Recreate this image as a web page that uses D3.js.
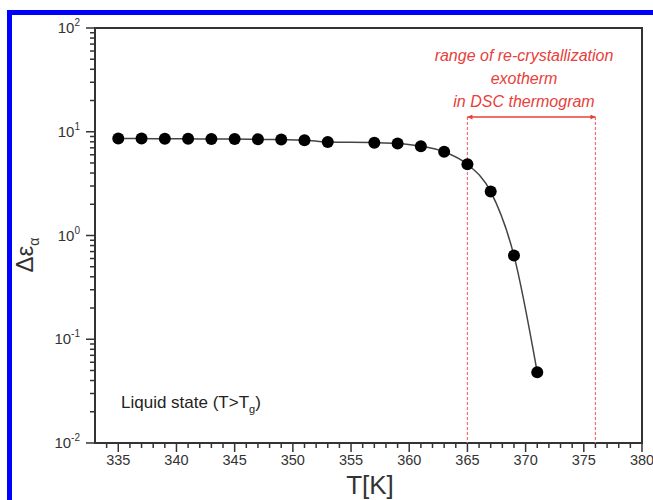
<!DOCTYPE html>
<html lang="en">
<head>
<meta charset="UTF-8">
<title>Delta epsilon alpha vs T</title>
<script src="https://d3js.org/d3.v7.min.js"></script>
<style>
  body { margin: 0; background: #fff; }
  svg text { font-family: "Liberation Sans", Arial, sans-serif; }
</style>
</head>
<body>
<div id="chart"></div>
<script>
// data
var temps = [335, 337, 339, 341, 343, 345, 347, 349, 351, 353, 357, 359, 361, 363, 365, 367, 369, 371];
var deltaEps = [8.6, 8.6, 8.55, 8.55, 8.5, 8.5, 8.45, 8.4, 8.3, 7.95, 7.85, 7.7, 7.25, 6.4, 4.85, 2.65, 0.64, 0.048];
var xTicks = [335, 340, 345, 350, 355, 360, 365, 370, 375, 380];
var yExponents = [-2, -1, 0, 1, 2];
var rangeStart = 365, rangeEnd = 376;
var noteLines = ["range of re-crystallization", "exotherm", "in DSC thermogram"];

var width = 653, height = 500;
var plotLeft = 95, plotRight = 642, plotTop = 28, plotBottom = 443;

var svg = d3.select("#chart").append("svg")
    .attr("width", width)
    .attr("height", height);

svg.append("rect").attr("width", width).attr("height", height).attr("fill", "#fff");

// blue frame
svg.append("rect")
    .attr("x", 9.5).attr("y", 12.5)
    .attr("width", 800).attr("height", 700)
    .attr("fill", "none")
    .attr("stroke", "#0000ff")
    .attr("stroke-width", 5);

var x = d3.scaleLinear().domain([333, 380]).range([plotLeft, plotRight]);
var y = d3.scaleLog().domain([0.01, 100]).range([plotBottom, plotTop]);

var axisColor = "#333";

// x ticks, minor every 1 K
svg.append("g")
  .selectAll("line")
  .data(d3.range(334, 381))
  .enter().append("line")
    .attr("x1", function(d){ return x(d); })
    .attr("x2", function(d){ return x(d); })
    .attr("y1", plotBottom)
    .attr("y2", function(d){ return xTicks.indexOf(d) >= 0 ? plotBottom + 9 : plotBottom + 5; })
    .attr("stroke", axisColor)
    .attr("stroke-width", 1.5);

svg.append("g")
  .selectAll("text")
  .data(xTicks)
  .enter().append("text")
    .attr("x", function(d){ return x(d); })
    .attr("y", 465)
    .attr("text-anchor", "middle")
    .attr("font-size", 14.5)
    .attr("fill", "#333")
    .text(function(d){ return d; });

// y ticks: decades + minor
var yMinor = [];
yExponents.forEach(function(e) {
  if (e < 2) for (var k = 2; k <= 9; k++) yMinor.push(k * Math.pow(10, e));
});

svg.append("g")
  .selectAll("line")
  .data(yMinor)
  .enter().append("line")
    .attr("x1", plotLeft - 5).attr("x2", plotLeft)
    .attr("y1", function(d){ return y(d); })
    .attr("y2", function(d){ return y(d); })
    .attr("stroke", axisColor)
    .attr("stroke-width", 1.5);

svg.append("g")
  .selectAll("line")
  .data(yExponents)
  .enter().append("line")
    .attr("x1", plotLeft - 9).attr("x2", plotLeft)
    .attr("y1", function(d){ return y(Math.pow(10, d)); })
    .attr("y2", function(d){ return y(Math.pow(10, d)); })
    .attr("stroke", axisColor)
    .attr("stroke-width", 1.5);

var yLab = svg.append("g")
  .selectAll("text")
  .data(yExponents)
  .enter().append("text")
    .attr("x", 80)
    .attr("y", function(d){ return y(Math.pow(10, d)) + 5; })
    .attr("text-anchor", "end")
    .attr("font-size", 15)
    .attr("fill", "#333");
yLab.append("tspan").text("10");
yLab.append("tspan")
    .attr("font-size", 10)
    .attr("dy", -7)
    .text(function(d){ return d; });

// frame
svg.append("rect")
    .attr("x", plotLeft).attr("y", plotTop)
    .attr("width", plotRight - plotLeft).attr("height", plotBottom - plotTop)
    .attr("fill", "none")
    .attr("stroke", axisColor)
    .attr("stroke-width", 2);

// red range markers
var red = "#e8403a";
[rangeStart, rangeEnd].forEach(function(t) {
  svg.append("line")
      .attr("x1", x(t)).attr("x2", x(t))
      .attr("y1", 117).attr("y2", plotBottom)
      .attr("stroke", "#f07070")
      .attr("stroke-width", 1.2)
      .attr("stroke-dasharray", "3,2");
});

svg.append("defs").selectAll("marker")
  .data(["a-start", "a-end"])
  .enter().append("marker")
    .attr("id", function(d){ return d; })
    .attr("viewBox", "0 0 10 10")
    .attr("refX", 10)
    .attr("refY", 5)
    .attr("markerWidth", 11).attr("markerHeight", 5)
    .attr("markerUnits", "userSpaceOnUse")
    .attr("orient", function(d){ return d === "a-start" ? "auto-start-reverse" : "auto"; })
  .append("path")
    .attr("d", "M0,0L10,5L0,10Z")
    .attr("fill", red);

svg.append("line")
    .attr("x1", x(rangeStart)).attr("x2", x(rangeEnd))
    .attr("y1", 117).attr("y2", 117)
    .attr("stroke", red)
    .attr("stroke-width", 1.5)
    .attr("marker-start", "url(#a-start)")
    .attr("marker-end", "url(#a-end)");

svg.append("g")
  .selectAll("text")
  .data(noteLines)
  .enter().append("text")
    .attr("x", 524)
    .attr("y", function(d, i){ return 61 + i * 23; })
    .attr("text-anchor", "middle")
    .attr("font-size", 16)
    .attr("font-style", "italic")
    .attr("fill", red)
    .text(function(d){ return d; });

// data line + points
var pts = temps.map(function(t, i){ return [t, deltaEps[i]]; });

svg.append("path")
    .datum(pts)
    .attr("d", d3.line()
      .x(function(d){ return x(d[0]); })
      .y(function(d){ return y(d[1]); })
      .curve(d3.curveMonotoneX))
    .attr("fill", "none")
    .attr("stroke", "#444")
    .attr("stroke-width", 1.5);

svg.append("g")
  .selectAll("circle")
  .data(pts)
  .enter().append("circle")
    .attr("cx", function(d){ return x(d[0]); })
    .attr("cy", function(d){ return y(d[1]); })
    .attr("r", 6)
    .attr("fill", "#000");

// inside label
var liq = svg.append("text")
    .attr("x", 121).attr("y", 408)
    .attr("font-size", 17)
    .attr("fill", "#222");
liq.append("tspan").text("Liquid state (T>T");
liq.append("tspan").attr("font-size", 11).attr("dy", 5).text("g");
liq.append("tspan").attr("dy", -5).text(")");

// axis titles
svg.append("text")
    .attr("x", 370).attr("y", 494)
    .attr("text-anchor", "middle")
    .attr("font-size", 26)
    .attr("fill", "#333")
    .text("T[K]");

var yt = svg.append("text")
    .attr("transform", "translate(33," + 255 + ") rotate(-90)")
    .attr("text-anchor", "middle")
    .attr("font-size", 24)
    .attr("fill", "#333");
yt.append("tspan").text("\u0394\u03b5");
yt.append("tspan").attr("font-size", 14).attr("dy", 6).text("\u03b1");
</script>
</body>
</html>
